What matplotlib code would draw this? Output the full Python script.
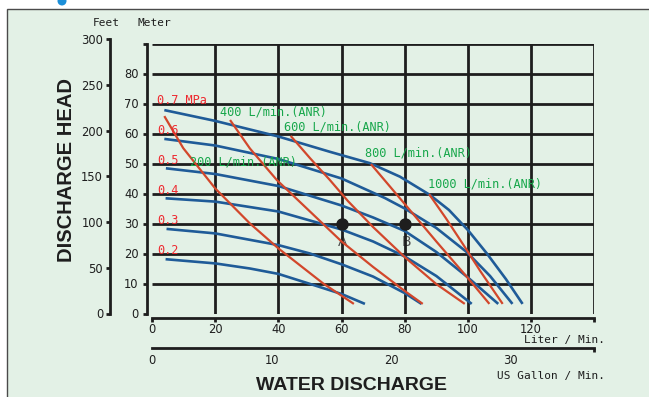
import matplotlib
matplotlib.use("Agg")
import matplotlib.pyplot as plt
from matplotlib import font_manager
from matplotlib.patches import Rectangle, Ellipse

# ---- data (x = L/min, y = m) ----
pressure_labels = ["0.7 MPa", "0.6", "0.5", "0.4", "0.3", "0.2"]
pressure_levels = [70, 60, 50, 40, 30, 20]

p07_x = [3.9, 20, 40, 56.3, 69, 78.5, 88, 94, 100, 106, 112, 117.3]
p07_y = [67.8, 64.2, 59.0, 53.9, 50.1, 45.6, 39.5, 34.5, 27.8, 20.0, 11.5, 3.2]
p06_x = [3.9, 20, 40, 60, 73.7, 80, 90, 99.6, 107, 114.1]
p06_y = [58.2, 56.0, 51.5, 45.0, 38.5, 35.0, 28.5, 20.5, 12.5, 3.2]
p05_x = [4.4, 20, 40, 60, 70, 80, 90, 100, 109.6]
p05_y = [48.4, 46.5, 42.5, 36.0, 32.0, 27.5, 20.5, 12.0, 3.2]
p04_x = [4.3, 20, 40, 60, 70, 80, 90, 101.2]
p04_y = [38.4, 37.3, 34.0, 28.0, 24.0, 19.0, 12.5, 3.2]
p03_x = [4.6, 20, 40, 50, 60, 70, 80, 85.3]
p03_y = [28.2, 26.7, 22.8, 20.0, 16.4, 12.3, 6.8, 3.2]
p02_x = [4.3, 20, 31, 40, 52, 60, 67.4]
p02_y = [18.1, 16.7, 15.0, 13.2, 9.2, 6.5, 3.2]

a200_x = [3.9, 9.9, 20, 31, 40, 54.2, 63.9]
a200_y = [65.8, 55.1, 41.7, 30.0, 21.7, 10.0, 3.2]
a400_x = [24.7, 31, 39.5, 53, 60, 70, 80, 85.7]
a400_y = [64.5, 55.0, 44.5, 31.0, 24.0, 15.5, 7.5, 3.2]
a600_x = [43.9, 50, 56.3, 62, 70, 80, 90, 99]
a600_y = [59.2, 51.8, 44.5, 37.5, 28.8, 18.8, 9.8, 3.2]
a800_x = [69.3, 72.2, 80, 90, 100, 106.8]
a800_y = [49.8, 46.2, 36.5, 24.0, 11.8, 3.2]
a1000_x = [87.7, 93, 98.5, 104, 111]
a1000_y = [39.8, 31.8, 23.0, 14.0, 3.2]

air_labels = ["200 L/min.(ANR)", "400 L/min.(ANR)", "600 L/min.(ANR)",
              "800 L/min.(ANR)", "1000 L/min.(ANR)"]
air_label_x = [12.0, 21.5, 41.8, 67.4, 87.4]
air_label_y = [50.6, 67.3, 62.3, 53.4, 43.1]

points_x = [60, 80]
points_y = [30, 30]
points_txt = ["A", "B"]

liter_ticks = list(range(0, 141, 20))
meter_ticks = list(range(0, 91, 10))
feet_ticks = list(range(0, 301, 50))
gallon_ticks = [0, 10, 20, 30]
L_PER_GAL = 3.785411784

# ---- style ----
W, H = 649, 397
BG = "#e3f1e6"
INK = "#1e1e1e"
BLUE = "#1f5b98"
RED = "#d2472b"
RED_TXT = "#ee2a30"
GREEN = "#17a74b"

names = {f.name for f in font_manager.fontManager.ttflist}
NARROW = "Liberation Sans Narrow" if "Liberation Sans Narrow" in names else "DejaVu Sans"
MONO = "DejaVu Sans Mono"
BOLD = "Liberation Sans" if "Liberation Sans" in names else "DejaVu Sans"
tick_fs = 10 if NARROW != "DejaVu Sans" else 8.3


def fx(px):
    return px / W


def fy(py):
    return 1 - py / H


fig = plt.figure(figsize=(W / 100, H / 100), dpi=100)
fig.patch.set_facecolor("white")
fig.patches.append(Rectangle((fx(6.5), -0.1), 1.2, fy(9.5) + 0.1, transform=fig.transFigure,
                             facecolor=BG, edgecolor="#4a4a4a", lw=1.0, zorder=-10))
fig.patches.append(Ellipse((fx(62), fy(1)), 9 / W, 9 / H, transform=fig.transFigure,
                           facecolor="#1c8fd8", edgecolor="none", zorder=-10))

x0, x1 = 152, 594.3
y0, y1 = 313.5, 43.5

# main axes: liters vs meters
ax = fig.add_axes([fx(x0), fy(y0), (x1 - x0) / W, (y0 - y1) / H])
ax.set_xlim(0, 140)
ax.set_ylim(0, 90)
ax.patch.set_alpha(0)
for s in ["top", "right"]:
    ax.spines[s].set_visible(False)
ax.spines["left"].set_position(("outward", 3.6))
ax.spines["bottom"].set_position(("outward", 3.0))
for s in ["left", "bottom"]:
    ax.spines[s].set_linewidth(2.0)
    ax.spines[s].set_color(INK)

ax.set_yticks(meter_ticks)
ax.set_yticklabels([str(v) if v <= 80 else "" for v in meter_ticks])
ax.set_xticks(liter_ticks)
ax.set_xticklabels([str(v) if v <= 120 else "" for v in liter_ticks])
ax.tick_params(axis="y", direction="out", length=3, width=2, pad=3,
               labelsize=tick_fs, colors=INK)
ax.tick_params(axis="x", direction="out", length=3, width=2, pad=1,
               labelsize=tick_fs, colors=INK)
for lab in ax.get_xticklabels() + ax.get_yticklabels():
    lab.set_fontfamily(NARROW)

# grid
ax.hlines(meter_ticks[1:], 0, 140, colors=INK, lw=2.0, zorder=1)
ax.vlines(liter_ticks[1:], 0, 90, colors=INK, lw=2.0, zorder=1)

# pressure curves
for xs, ys in [(p07_x, p07_y), (p06_x, p06_y), (p05_x, p05_y),
               (p04_x, p04_y), (p03_x, p03_y), (p02_x, p02_y)]:
    ax.plot(xs, ys, color=BLUE, lw=1.9, solid_capstyle="butt", zorder=3)

# air consumption curves
for xs, ys in [(a200_x, a200_y), (a400_x, a400_y), (a600_x, a600_y),
               (a800_x, a800_y), (a1000_x, a1000_y)]:
    ax.plot(xs, ys, color=RED, lw=1.6, solid_capstyle="butt", zorder=4)

for lab, lev in zip(pressure_labels, pressure_levels):
    ax.text(1.7, lev + 1.0, lab, color=RED_TXT, fontsize=8.6, family=MONO,
            ha="left", va="center", zorder=6)

for lab, lx, ly in zip(air_labels, air_label_x, air_label_y):
    ax.text(lx, ly, lab, color=GREEN, fontsize=8.6, family=MONO,
            ha="left", va="center", zorder=6)

ax.plot(points_x, points_y, "o", ms=8, color=INK, zorder=5)
for px_, py_, t in zip(points_x, points_y, points_txt):
    ax.text(px_ + 0.5, py_ - 6, t, color="#505050", fontsize=10, family=NARROW,
            ha="center", va="center", zorder=0.5)

# feet axis
axf = fig.add_axes([fx(110), fy(y0), 0.0001, (y0 - 39.2) / H])
axf.set_ylim(0, 300)
axf.patch.set_alpha(0)
for s in ["top", "right", "bottom"]:
    axf.spines[s].set_visible(False)
axf.spines["left"].set_linewidth(2.0)
axf.spines["left"].set_color(INK)
axf.set_xticks([])
axf.set_yticks(feet_ticks)
axf.tick_params(axis="y", direction="out", length=3, width=2, pad=2,
                labelsize=tick_fs, colors=INK)
for lab in axf.get_yticklabels():
    lab.set_fontfamily(NARROW)

# gallon axis
axg = fig.add_axes([fx(x0), fy(348), (x1 - x0) / W, 0.0001])
axg.set_xlim(0, 140 / L_PER_GAL)
axg.patch.set_alpha(0)
for s in ["top", "right", "left"]:
    axg.spines[s].set_visible(False)
axg.spines["bottom"].set_linewidth(2.0)
axg.spines["bottom"].set_color(INK)
axg.set_yticks([])
axg.set_xticks(gallon_ticks)
axg.set_xticks([0, 140 / L_PER_GAL], minor=True)
axg.tick_params(axis="x", which="major", length=0, pad=4, labelsize=tick_fs, colors=INK)
axg.tick_params(axis="x", which="minor", direction="out", length=3, width=2, colors=INK)
for lab in axg.get_xticklabels():
    lab.set_fontfamily(NARROW)

# text
fig.text(fx(93), fy(23), "Feet", family=MONO, fontsize=8, color=INK, ha="left", va="center")
fig.text(fx(137), fy(23), "Meter", family=MONO, fontsize=8, color=INK, ha="left", va="center")
fig.text(fx(605), fy(340), "Liter / Min.", family=MONO, fontsize=8, color=INK,
         ha="right", va="center")
fig.text(fx(605), fy(376), "US Gallon / Min.", family=MONO, fontsize=8, color=INK,
         ha="right", va="center")
fig.text(fx(351), fy(385), "WATER DISCHARGE", family=BOLD, fontweight="bold",
         fontsize=14, color=INK, ha="center", va="center")
fig.text(fx(67), fy(170), "DISCHARGE HEAD", family=BOLD, fontweight="bold",
         fontsize=14.5, color=INK, ha="center", va="center", rotation=90)

fig.savefig("out.png", dpi=100, facecolor=fig.get_facecolor())
